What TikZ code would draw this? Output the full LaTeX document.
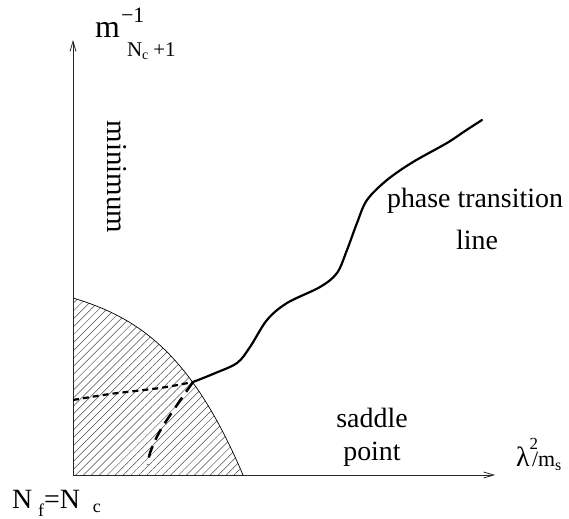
\documentclass[tikz,border=0pt]{standalone}
\usepackage{fontspec}
\setmainfont{Liberation Serif}
\usetikzlibrary{patterns.meta,arrows.meta}
\newcommand{\fsz}[1]{\fontsize{#1}{#1}\selectfont}
\begin{document}
\begin{tikzpicture}[x=1bp,y=-1bp,
  axisline/.style={line width=1bp, draw=black!85, -{Straight Barb[length=10bp,width=6bp,line width=0.8bp]}},
  lbl/.style={inner sep=0pt, outer sep=0pt, anchor=base west},
  lblc/.style={inner sep=0pt, outer sep=0pt, anchor=base},
  phaseline/.style={line width=2.2bp, line cap=round},
  shortdash/.style={line width=2.2bp, dash pattern=on 6bp off 4bp},
  longdash/.style={line width=2.5bp, dash pattern=on 12bp off 7bp},
  boundary/.style={line width=0.7bp}]
\useasboundingbox (0,0) rectangle (569,519);
\fill[white] (0,0) rectangle (569,519);

\coordinate (O) at (73,475);
\coordinate (ytip) at (73,40);
\coordinate (xtip) at (495,475);
\coordinate (P) at (193,382);
\coordinate (dotstart) at (73,400);
\coordinate (dashend) at (148,465);
\coordinate (pend) at (482,120);
\coordinate (htop) at (73,298);
\coordinate (hbot) at (243,475);

% hatched region
\fill[pattern={Lines[angle=45,distance=5.6bp,line width=0.5bp]}, pattern color=black!70]
  (htop) .. controls (140,318) and (192,355) .. (hbot) -- (O) -- cycle;
\draw[boundary] (htop) .. controls (140,318) and (192,355) .. (hbot);

% axes
\draw[axisline] (O) -- (ytip);
\draw[axisline] (O) -- (xtip);

% lines
\draw[shortdash] plot[smooth,tension=0.5] coordinates {(dotstart) (110,394) (160,388) (P)};
\draw[longdash] plot[smooth,tension=0.6] coordinates {(P) (177,405) (160,431) (150,453) (dashend)};
\draw[phaseline] plot[smooth,tension=0.55] coordinates {(P) (213,374) (237,363) (250,347) (267,320) (287,303) (320,287) (337,273) (347,250) (357,223) (367,200) (387,180) (413,162) (447,143) (465,131) (pend)};

% labels
\node[lbl] (ym) at (95,38) {\fsz{32}m};
\node[lbl] (ysup) at (121,23) {\fsz{22}−1};
\node[lbl] (ysub) at (127,57) {\fsz{21}N\raisebox{-3bp}{\fsz{14}c}\hspace{5bp}+1};

\node[lblc, rotate=-90] (minimum) at (107,177) {\fsz{29}minimum};

\node[lblc] (phase) at (475,208) {\fsz{28}phase transition};
\node[lblc] (line) at (477,249) {\fsz{28}line};

\node[lblc] (saddle) at (372,427) {\fsz{28}saddle};
\node[lblc] (point) at (372,460) {\fsz{28}point};

\node[lbl] (xlab) at (516,466) {\fsz{28}λ\hspace{0bp}\raisebox{17bp}{\fsz{17}2}\hspace{-6bp}\fsz{22}/m\raisebox{-4bp}{\fsz{16}s}};

\node[lbl] (nfnc) at (12,508) {\fsz{28}N\hspace{6bp}\raisebox{-8bp}{\fsz{18}f}=N\hspace{13bp}\raisebox{-4bp}{\fsz{18}c}};
\end{tikzpicture}
\end{document}
